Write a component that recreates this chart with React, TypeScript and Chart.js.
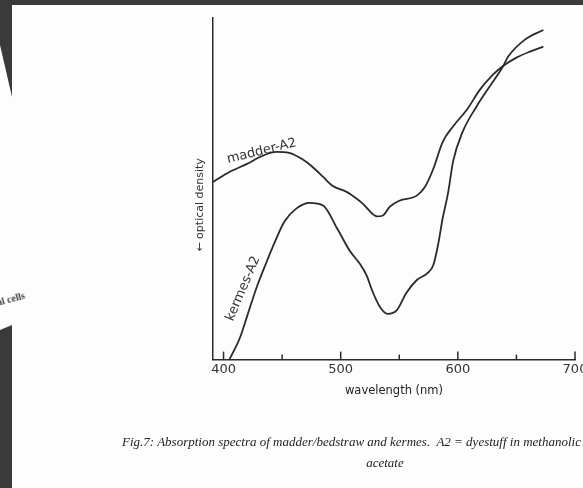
import React, { useEffect, useRef } from "react";
import { Chart, registerables } from "chart.js";

Chart.register(...registerables);

// ---- data ----
const madderWavelength = [391, 405, 420, 433, 445, 456, 467, 476, 485, 493, 505, 510, 519, 527, 531, 536, 542, 550, 565, 572, 579, 587, 596, 608, 619, 630, 638, 650, 661, 673];
const madderDensity = [52.0, 54.9, 57.3, 59.6, 60.8, 60.5, 58.7, 56.4, 53.5, 50.9, 49.1, 48.0, 45.6, 42.7, 41.9, 42.2, 44.8, 46.5, 48.0, 50.6, 55.8, 63.7, 68.3, 73.3, 79.1, 83.4, 85.8, 88.4, 90.1, 91.6];

const kermesWavelength = [405, 414, 420.5, 428, 437, 444, 452, 462, 473.5, 485, 497, 508, 516, 522, 527, 533, 540, 548, 556, 565, 574, 579, 583, 587, 591.5, 596, 604, 616, 627, 638, 643, 657, 673];
const kermesDensity = [0, 6.4, 13.1, 20.9, 28.8, 34.6, 40.4, 44.2, 45.9, 45.1, 38.4, 31.7, 28.2, 24.7, 20.1, 15.7, 13.4, 14.5, 19.5, 23.3, 25.3, 27.6, 33.4, 41.3, 48.5, 58.1, 66.6, 74.1, 79.9, 85.5, 88.7, 93.6, 96.5];

const xTickValues = [400, 450, 500, 550, 600, 650, 700];
const xLabelValues = [400, 500, 600, 700];

const seriesNames = ["madder-A2", "kermes-A2"];
const xTitle = "wavelength (nm)";
const yTitle = "\u2190 optical density";
const captionLine1 = "Fig.7: Absorption spectra of madder/bedstraw and kermes.  A2 = dyestuff in methanolic sodium";
const captionLine2 = "acetate";
const strayText = "al cells";

// label placement (data coordinates + rotation), kept separate from the series data
const curveLabelPlacement = [
  { x: 432.5, y: 61.0, angle: -14 },
  { x: 416.7, y: 20.8, angle: -67 },
];

const INK = "#2a2a2a";
const FONT = "'DejaVu Sans', sans-serif";

function toPoints(xs: number[], ys: number[]) {
  return xs.map((x, i) => ({ x, y: ys[i] }));
}

const decorPlugin = {
  id: "decor",
  afterDraw(chart: any) {
    const { ctx, chartArea, scales } = chart;
    const x = scales.x;
    const y = scales.y;
    ctx.save();
    // inward ticks on x axis
    ctx.strokeStyle = INK;
    ctx.lineWidth = 1.5;
    xTickValues.forEach((v) => {
      const px = x.getPixelForValue(v);
      const len = xLabelValues.includes(v) ? 8 : 5;
      ctx.beginPath();
      ctx.moveTo(px, chartArea.bottom);
      ctx.lineTo(px, chartArea.bottom - len);
      ctx.stroke();
    });
    // curve labels
    ctx.fillStyle = "#333";
    ctx.font = `13px ${FONT}`;
    ctx.textAlign = "center";
    ctx.textBaseline = "middle";
    seriesNames.forEach((name, i) => {
      const p = curveLabelPlacement[i];
      ctx.save();
      ctx.translate(x.getPixelForValue(p.x), y.getPixelForValue(p.y));
      ctx.rotate((p.angle * Math.PI) / 180);
      ctx.fillText(name, 0, 0);
      ctx.restore();
    });
    // y title
    ctx.save();
    ctx.font = `11px ${FONT}`;
    ctx.fillStyle = "#333";
    ctx.translate(chartArea.left - 13, y.getPixelForValue(45.3));
    ctx.rotate(-Math.PI / 2);
    ctx.fillText(yTitle, 0, 0);
    ctx.restore();
    ctx.restore();
  },
};

function SpectraChart() {
  const ref = useRef<HTMLCanvasElement | null>(null);
  useEffect(() => {
    if (!ref.current) return;
    const chart = new Chart(ref.current, {
      type: "scatter",
      data: {
        datasets: [
          {
            label: seriesNames[0],
            data: toPoints(madderWavelength, madderDensity),
            showLine: true,
            borderColor: INK,
            borderWidth: 1.8,
            pointRadius: 0,
            cubicInterpolationMode: "monotone",
          },
          {
            label: seriesNames[1],
            data: toPoints(kermesWavelength, kermesDensity),
            showLine: true,
            borderColor: INK,
            borderWidth: 1.8,
            pointRadius: 0,
            cubicInterpolationMode: "monotone",
          },
        ],
      },
      options: {
        responsive: false,
        animation: false,
        layout: { padding: { left: 213, top: 18, right: 45, bottom: 90 } },
        plugins: { legend: { display: false }, tooltip: { enabled: false } },
        scales: {
          x: {
            type: "linear",
            min: 391,
            max: 700,
            afterBuildTicks: (s: any) => {
              s.ticks = xTickValues.map((v) => ({ value: v }));
            },
            ticks: {
              autoSkip: false,
              maxRotation: 0,
              padding: 2,
              color: "#333",
              font: { family: FONT, size: 13 },
              callback: (v: any) => (xLabelValues.includes(Number(v)) ? String(v) : ""),
            },
            grid: { drawOnChartArea: false, drawTicks: false },
            border: { display: true, color: INK, width: 1.5 },
            title: {
              display: true,
              text: xTitle,
              color: "#222",
              font: { family: FONT, size: 11.5 },
              padding: { top: 5, bottom: 0 },
            },
          },
          y: {
            type: "linear",
            min: 0,
            max: 100,
            afterFit: (s: any) => {
              s.width = 0;
            },
            ticks: { display: false },
            grid: { drawOnChartArea: false, drawTicks: false },
            border: { display: true, color: INK, width: 1.5 },
          },
        },
      },
      plugins: [decorPlugin],
    } as any);
    return () => chart.destroy();
  }, []);
  return (
    <canvas
      ref={ref}
      width={620}
      height={488}
      style={{ position: "absolute", left: 0, top: 0, width: 620, height: 488 }}
    />
  );
}

export default function App() {
  const dark = "#3a3a3a";
  return (
    <div
      style={{
        position: "fixed",
        left: 0,
        top: 0,
        width: 583,
        height: 488,
        overflow: "hidden",
        background: "#fdfdfd",
      }}
    >
      <SpectraChart />
      <div
        style={{
          position: "absolute",
          left: 122,
          top: 434,
          lineHeight: "20px",
          font: "italic 13px 'Liberation Serif', serif",
          whiteSpace: "pre",
          color: "#222",
        }}
      >
        {captionLine1}
      </div>
      <div
        style={{
          position: "absolute",
          left: 285,
          width: 200,
          top: 455,
          lineHeight: "20px",
          textAlign: "center",
          font: "italic 13px 'Liberation Serif', serif",
          color: "#222",
        }}
      >
        {captionLine2}
      </div>
      <div
        style={{
          position: "absolute",
          left: -3,
          top: 297,
          font: "bold 10px 'Liberation Serif', serif",
          color: "#444",
          transform: "rotate(-15deg)",
          transformOrigin: "left center",
          whiteSpace: "nowrap",
        }}
      >
        {strayText}
      </div>
      {/* dark border of the photographed page */}
      <div style={{ position: "absolute", left: 0, top: 0, width: 583, height: 5, background: dark }} />
      <div
        style={{
          position: "absolute",
          left: 0,
          top: 0,
          width: 12,
          height: 100,
          background: dark,
          clipPath: "polygon(0 0, 12px 0, 12px 97px, 0 45px)",
        }}
      />
      <div
        style={{
          position: "absolute",
          left: 0,
          top: 320,
          width: 12,
          height: 168,
          background: dark,
          clipPath: "polygon(0 10px, 12px 5px, 12px 168px, 0 168px)",
        }}
      />
    </div>
  );
}
